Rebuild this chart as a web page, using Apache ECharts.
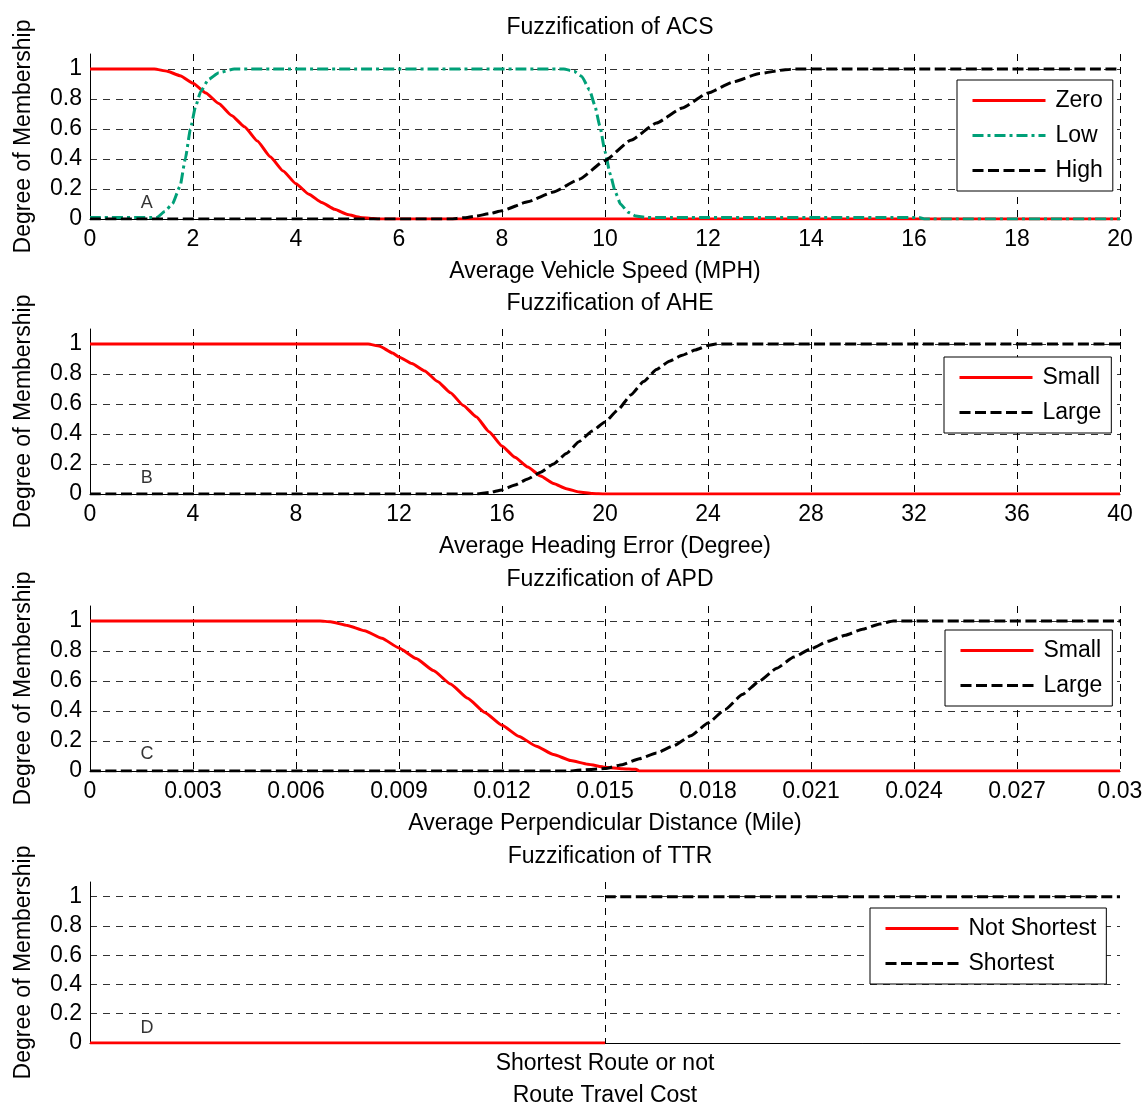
<!DOCTYPE html>
<html><head><meta charset="utf-8">
<script src="https://cdn.jsdelivr.net/npm/echarts@6/dist/echarts.min.js"></script>
<style>html,body{margin:0;padding:0;background:#fff;overflow:hidden}#c{width:1148px;height:1108px}</style>
</head><body><div id="c"></div>
<script>
const FONT = '"Liberation Sans", Arial, Helvetica, sans-serif';

// ---- text ----
const titles = ['Fuzzification of ACS', 'Fuzzification of AHE', 'Fuzzification of APD', 'Fuzzification of TTR'];
const xNames = ['Average Vehicle Speed (MPH)', 'Average Heading Error (Degree)', 'Average Perpendicular Distance (Mile)', 'Route Travel Cost'];
const yName = 'Degree of Membership';
const panelLetters = ['A', 'B', 'C', 'D'];
const ttrTickLabel = 'Shortest Route or not';

// ---- axis ranges ----
const xMins = [0, 0, 0, 0];
const xMaxs = [20, 40, 0.03, 1];
const xIntervals = [2, 4, 0.003, 0.5];
const yMin = 0, yMax = 1.1, yInterval = 0.2;

// ---- letter anchor positions (data space) ----
const letterPos = [[1.1, 0.105], [2.2, 0.108], [0.00166, 0.11], [0.0553, 0.102]];

// ---- ACS ----
const acsZero = [[0,1],[1.25,1],[1.5,0.985],[1.75,0.955],[2,0.905],[2.25,0.84],[2.5,0.77],[2.75,0.69],[3,0.615],[3.25,0.52],[3.5,0.415],[3.75,0.32],[4,0.235],[4.25,0.165],[4.5,0.11],[4.75,0.065],[5,0.03],[5.25,0.01],[5.5,0.003],[5.6,0],[20,0]];
const acsLow = [[0,0.01],[1.3,0.01],[1.45,0.05],[1.6,0.1],[1.75,0.22],[1.85,0.4],[1.95,0.6],[2.05,0.75],[2.15,0.85],[2.3,0.93],[2.5,0.975],[2.8,1],[9.2,1],[9.4,0.985],[9.55,0.95],[9.7,0.86],[9.8,0.76],[9.9,0.62],[10.0,0.45],[10.1,0.3],[10.2,0.18],[10.3,0.1],[10.45,0.045],[10.6,0.02],[10.8,0.01],[16.1,0.01],[16.2,0],[20,0]];
const acsHigh = [[0,0],[7,0],[7.25,0.008],[7.5,0.02],[7.75,0.035],[8,0.055],[8.5,0.115],[9,0.18],[9.5,0.265],[10,0.39],[10.5,0.525],[11,0.64],[11.5,0.74],[12,0.84],[12.5,0.915],[13,0.97],[13.5,0.995],[13.7,1],[20,1]];

// ---- AHE ----
const aheSmall = [[0,1],[10.8,1],[11.25,0.985],[11.75,0.94],[12,0.914],[12.5,0.87],[13,0.82],[13.5,0.75],[14,0.675],[14.5,0.59],[15,0.515],[15.5,0.415],[16,0.32],[16.5,0.245],[17,0.18],[17.5,0.12],[18,0.07],[18.5,0.035],[19,0.013],[19.5,0.003],[20,0],[40,0]];
const aheLarge = [[0,0],[15,0],[15.5,0.01],[16,0.027],[16.5,0.06],[17,0.1],[17.5,0.145],[18,0.2],[18.5,0.27],[19,0.35],[19.5,0.42],[20,0.48],[20.5,0.56],[21,0.66],[21.5,0.75],[22,0.83],[22.5,0.885],[23,0.925],[23.5,0.96],[24,0.99],[24.3,1],[40,1]];

// ---- APD ----
const apdSmall = [[0,1],[0.0067,1],[0.007,0.995],[0.0075,0.97],[0.008,0.935],[0.0085,0.885],[0.009,0.82],[0.0095,0.75],[0.01,0.67],[0.0105,0.58],[0.011,0.485],[0.0115,0.39],[0.012,0.305],[0.0125,0.23],[0.013,0.165],[0.0135,0.11],[0.014,0.07],[0.0145,0.045],[0.015,0.025],[0.0155,0.015],[0.0159,0.011],[0.016,0],[0.03,0]];
const apdLarge = [[0,0],[0.014,0],[0.0142,0.005],[0.015,0.016],[0.0155,0.042],[0.016,0.082],[0.0165,0.12],[0.017,0.168],[0.0175,0.235],[0.018,0.32],[0.0185,0.41],[0.019,0.51],[0.0195,0.6],[0.02,0.685],[0.0205,0.76],[0.021,0.815],[0.0215,0.865],[0.022,0.905],[0.0225,0.945],[0.023,0.98],[0.0234,1],[0.03,1]];

// ---- TTR ----
const ttrNotShortest = [[0,0],[0.5,0]];
const ttrShortest = [[0.5,1],[1,1]];

// ---- legends ----
const legendNames = [['Zero','Low','High'], ['Small','Large'], ['Small','Large'], ['Not Shortest','Shortest']];

// ---- layout / style ----
const gridTops = [54, 329, 606, 882];
const gridH = 165;
const titleTops = [11, 287, 563, 840];
const legendPos = [[957, 80], [944, 357], [945, 630], [870, 908]];
const RED = '#ff0000', GREEN = '#00a078', BLACK = '#000000';
const redStyle = {color: RED, width: 3, type: 'solid'};
const greenStyle = {color: GREEN, width: 3, type: [11, 4, 3, 4]};
const blackStyle = {color: BLACK, width: 3, type: [11, 4.5]};
const GRIDDASH = [7, 6];

const chart = echarts.init(document.getElementById('c'), null, {renderer: 'canvas', width: 1148, height: 1108});

function fmtX(i) {
  return function (v) {
    if (i === 3) return Math.abs(v - 0.5) < 1e-9 ? ttrTickLabel : '';
    if (i === 2) return v === 0 ? '0' : String(+v.toFixed(3));
    return String(+v.toFixed(3));
  };
}

const grids = [], xAxes = [], yAxes = [], titleOpts = [], legends = [];
for (let i = 0; i < 4; i++) {
  grids.push({left: 90, right: 28, top: gridTops[i], height: gridH, containLabel: false});
  titleOpts.push({text: titles[i], left: 605, top: titleTops[i], textAlign: 'center',
    textStyle: {fontFamily: FONT, fontSize: 23, fontWeight: 'normal', color: '#000'}});
  xAxes.push({
    type: 'value', gridIndex: i, min: xMins[i], max: xMaxs[i], interval: xIntervals[i],
    name: xNames[i], nameLocation: 'middle', nameGap: 41,
    nameTextStyle: {fontFamily: FONT, fontSize: 23, color: '#000'},
    axisLine: {show: true, onZero: false, lineStyle: {color: '#000', width: 1}},
    axisTick: {show: false},
    axisLabel: {fontFamily: FONT, fontSize: 23, color: '#000', margin: 9, formatter: fmtX(i),
      showMinLabel: true, showMaxLabel: true},
    splitLine: {show: true, lineStyle: {color: i === 3 ? ['rgba(0,0,0,0)', '#000', 'rgba(0,0,0,0)'] : '#000', width: 1, type: GRIDDASH}}
  });
  yAxes.push({
    type: 'value', gridIndex: i, min: yMin, max: yMax, interval: yInterval,
    name: yName, nameLocation: 'middle', nameGap: 55,
    nameTextStyle: {fontFamily: FONT, fontSize: 23, color: '#000'},
    axisLine: {show: true, lineStyle: {color: '#000', width: 1}},
    axisTick: {show: false},
    axisLabel: {fontFamily: FONT, fontSize: 23, color: '#000', margin: 8, showMaxLabel: false,
      formatter: v => (v > 1.0001 ? '' : String(+v.toFixed(1)))},
    splitLine: {show: true, lineStyle: {color: ['#333','#333','#333','#333','#333','#333','rgba(0,0,0,0)'], width: 1, type: GRIDDASH}}
  });
  legends.push({
    data: legendNames[i], orient: 'vertical', left: legendPos[i][0], top: legendPos[i][1],
    backgroundColor: '#fff', borderColor: '#000', borderWidth: 1, borderRadius: 0,
    padding: [9, 10, 9, 14], itemGap: 12, itemWidth: 73, itemHeight: 14,
    selectedMode: false,
    itemStyle: {opacity: 0, borderWidth: 0},
    lineStyle: {width: 3},
    textStyle: {fontFamily: FONT, fontSize: 23, color: '#000', padding: [0, 0, 0, 5]}
  });
}

function lineSeries(name, data, idx, style) {
  return {type: 'line', name: name, data: data, xAxisIndex: idx, yAxisIndex: idx,
    showSymbol: false, symbol: 'none', smooth: 0.15, smoothMonotone: 'x', lineStyle: style, itemStyle: {color: style.color},
    animation: false, silent: true, clip: true};
}
function letterSeries(idx) {
  return {type: 'scatter', data: [letterPos[idx]], xAxisIndex: idx, yAxisIndex: idx, symbolSize: 0,
    silent: true, animation: false,
    label: {show: true, position: 'inside', formatter: panelLetters[idx], fontFamily: FONT, fontSize: 18, color: '#000'}};
}

const series = [
  lineSeries('Zero', acsZero, 0, redStyle),
  lineSeries('Low', acsLow, 0, greenStyle),
  lineSeries('High', acsHigh, 0, blackStyle),
  lineSeries('Small', aheSmall, 1, redStyle),
  lineSeries('Large', aheLarge, 1, blackStyle),
  lineSeries('Small', apdSmall, 2, redStyle),
  lineSeries('Large', apdLarge, 2, blackStyle),
  lineSeries('Not Shortest', ttrNotShortest, 3, redStyle),
  lineSeries('Shortest', ttrShortest, 3, blackStyle),
  letterSeries(0), letterSeries(1), letterSeries(2), letterSeries(3)
];

chart.setOption({
  backgroundColor: '#fff',
  animation: false,
  title: titleOpts,
  grid: grids,
  xAxis: xAxes,
  yAxis: yAxes,
  legend: legends,
  series: series
});
</script>
</body></html>
